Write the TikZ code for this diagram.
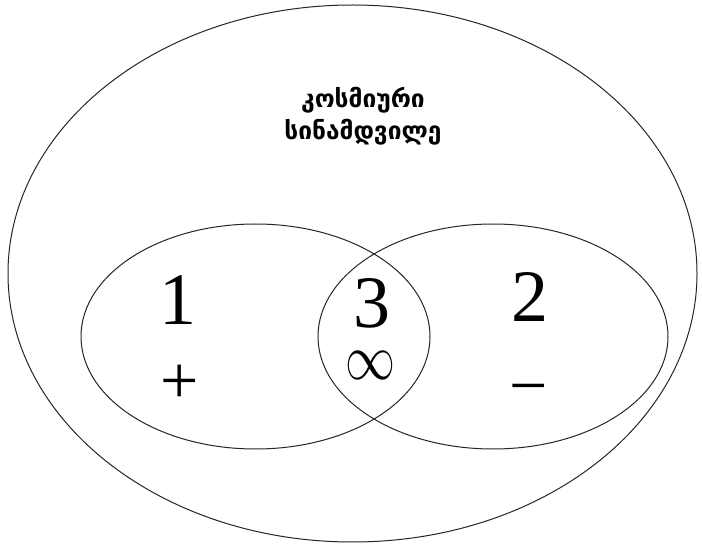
\documentclass[tikz,border=0pt]{standalone}
\usepackage{fontspec}
\setmainfont{Liberation Serif}
\newfontfamily\geofont{DejaVu Sans}
\tikzset{
  ring/.style={draw=black!85, line width=1pt},
  bignum/.style={font=\fontsize{74}{74}\selectfont, inner sep=0pt},
  sign/.style={font=\fontsize{68}{68}\selectfont, inner sep=0pt, anchor=base},
  geolabel/.style={font=\geofont\bfseries\fontsize{24.5}{32}\selectfont, align=center, inner sep=0pt}
}
\begin{document}
\begin{tikzpicture}[x=1pt,y=-1pt]
\useasboundingbox (0,0) rectangle (702,545);
\fill[white] (0,0) rectangle (702,545);
% outer ellipse
\draw[ring] (352.5,273.5) ellipse [x radius=344.5, y radius=268.5];
% inner ellipses
\draw[ring] (255.5,336.5) ellipse [x radius=174.5, y radius=112.5];
\draw[ring] (493,336.5) ellipse [x radius=175, y radius=112.5];
% texts
\node[geolabel] (title) at (363,116) {კოსმიური\\სინამდვილე};
\node[bignum] (one) at (178,300) {1};
\node[bignum] (three) at (372,303) {3};
\node[bignum] (two) at (530,297) {2};
\node[sign] (plus) at (180,404) {+};
\node[inner sep=0pt] (inf) at (370,365) {\resizebox{50pt}{28pt}{$\infty$}};
\node[sign] (minus) at (529,409) {−};
\end{tikzpicture}
\end{document}
